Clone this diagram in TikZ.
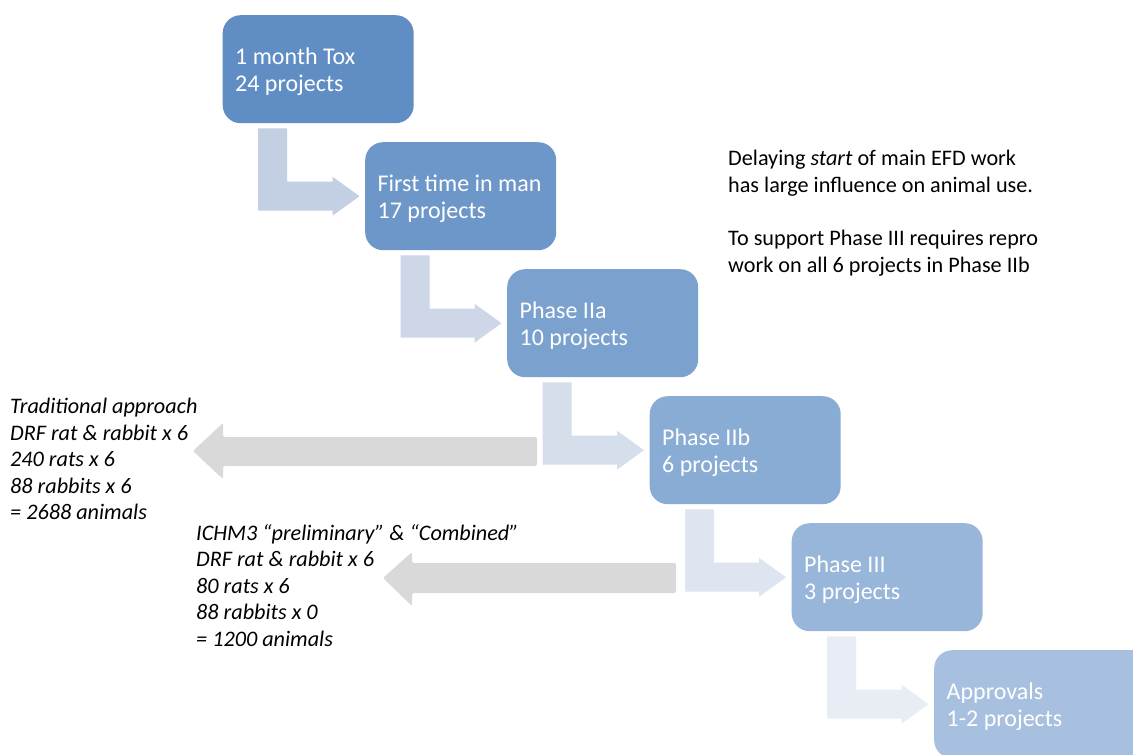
\documentclass[tikz,border=0pt]{standalone}
\usepackage{fontspec}
\setmainfont{Carlito}
\usetikzlibrary{calc}

\definecolor{boxA}{RGB}{97,141,197}
\definecolor{boxB}{RGB}{110,151,201}
\definecolor{boxC}{RGB}{123,162,206}
\definecolor{boxD}{RGB}{136,172,212}
\definecolor{boxE}{RGB}{151,182,217}
\definecolor{boxF}{RGB}{167,192,223}
\definecolor{bendA}{RGB}{195,207,226}
\definecolor{bendB}{RGB}{205,215,231}
\definecolor{bendC}{RGB}{213,222,235}
\definecolor{bendD}{RGB}{222,229,240}
\definecolor{bendE}{RGB}{231,236,245}
\definecolor{greyarrow}{RGB}{217,217,217}

\tikzset{
  stage/.style={draw=none, rounded corners=18pt, anchor=north west,
    minimum width=191pt, minimum height=108pt, inner xsep=12.5pt,
    text width=166pt, align=flush left, text=white,
    execute at begin node={\rule{0pt}{22.5pt}},
    font=\fontsize{24pt}{27pt}\selectfont},
  note/.style={anchor=base west, inner sep=0pt, align=flush left, text=black,
    font=\fontsize{22.2pt}{26.5pt}\selectfont},
  sidenote/.style={note, font=\fontsize{22.2pt}{26.5pt}\selectfont\itshape},
  backarrow/.style={fill=greyarrow, rounded corners=2pt},
}

% bent arrow from below one stage into the west side of the next
\newcommand{\bentarrow}[3]{%
  \coordinate (s#1) at ([shift={(35.5,5)}]b#1.south west);
  \coordinate (t#1) at ([xshift=-5.5pt]b#2.west);
  \fill[#3] let \p1=(s#1), \p2=(t#1) in
    (\x1,\y1) -- (\x1+29pt,\y1) -- (\x1+29pt,\y2+14.5pt)
    -- (\x2-27pt,\y2+14.5pt) -- (\x2-27pt,\y2+19.5pt) -- (\p2)
    -- (\x2-27pt,\y2-19.5pt) -- (\x2-27pt,\y2-14.5pt)
    -- (\x1,\y2-14.5pt) -- cycle;
}

\begin{document}
\begin{tikzpicture}[x=1pt,y=-1pt]
\clip (0,0) rectangle (1133,755);
\fill[white] (0,0) rectangle (1133,755);

% stages
\node[stage, fill=boxA] (b0) at (222.5,15)  {1 month Tox\\24 projects};
\node[stage, fill=boxB] (b1) at (365,142)   {First time in man\\17 projects};
\node[stage, fill=boxC] (b2) at (507,269)   {Phase IIa\\10 projects};
\node[stage, fill=boxD] (b3) at (649.5,396) {Phase IIb\\6 projects};
\node[stage, fill=boxE] (b4) at (791.5,523) {Phase III\\3 projects};
\node[stage, fill=boxF, minimum width=230pt, text width=205pt] (b5) at (934,650)
  {Approvals\\1-2 projects};

% bent arrows between stages
\bentarrow{0}{1}{bendA}
\bentarrow{1}{2}{bendB}
\bentarrow{2}{3}{bendC}
\bentarrow{3}{4}{bendD}
\bentarrow{4}{5}{bendE}

% grey arrows pointing at the animal counts
\fill[backarrow] (537,437) -- (537,466) -- (223,466) -- (223,479)
  -- (193,451) -- (223,423) -- (223,437) -- cycle;
\fill[backarrow] (676,563) -- (676,593) -- (412,593) -- (412,606)
  -- (383,578) -- (412,552) -- (412,563) -- cycle;

% notes (anchored at the baseline of their last line)
\node[note] (n0) at (728,272) {Delaying \textit{start} of main EFD work\\
  has large influence on animal use.\\[27pt]
  To support Phase III requires repro\\
  work on all 6 projects in Phase IIb};
\node[sidenote] (n1) at (10,519.5) {Traditional approach\\DRF rat \& rabbit x 6\\
  240 rats x 6\\88 rabbits x 6\\= 2688 animals};
\node[sidenote] (n2) at (196,646) {ICHM3 “preliminary” \& “Combined”\\
  DRF rat \& rabbit x 6\\80 rats x 6\\88 rabbits x 0\\= 1200 animals};
\end{tikzpicture}
\end{document}
